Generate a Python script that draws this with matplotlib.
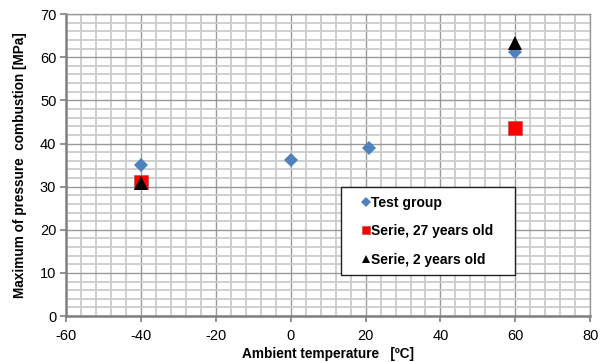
import numpy as np
import matplotlib.pyplot as plt
from matplotlib.ticker import MultipleLocator

plt.rcParams['font.family'] = ['Liberation Sans', 'DejaVu Sans']
plt.rcParams['axes.unicode_minus'] = False

# ambient temperature [C] / max combustion pressure [MPa]
test_temp = [-40, 0, 21, 60]
test_pmax = [35.0, 36.1, 38.9, 61.3]

old_temp = [-40, 60]
old_pmax = [31.1, 43.6]

new_temp = [-40, 60]
new_pmax = [30.8, 63.3]

fig = plt.figure(figsize=(6.06, 3.62), dpi=100)
ax = fig.add_axes([0.109, 0.127, 0.865, 0.834])

ax.set_xlim(-60, 80)
ax.set_ylim(0, 70)
ax.xaxis.set_major_locator(MultipleLocator(20))
ax.xaxis.set_minor_locator(MultipleLocator(4))
ax.yaxis.set_major_locator(MultipleLocator(10))
ax.yaxis.set_minor_locator(MultipleLocator(2))

ax.grid(which='minor', color='#cccccc', linewidth=1.3)
ax.grid(which='major', color='#999999', linewidth=1.0)
ax.set_axisbelow(True)

for s in ['top', 'right']:
    ax.spines[s].set_color('#999999')
    ax.spines[s].set_linewidth(1.0)
for s in ['left', 'bottom']:
    ax.spines[s].set_color('#808080')
    ax.spines[s].set_linewidth(1.8)

ax.tick_params(which='major', length=4, width=1.2, color='#808080',
               labelsize=10.5, pad=3)
ax.tick_params(axis='x', which='major', pad=5)
ax.tick_params(which='minor', length=0)

ax.plot(test_temp, test_pmax, 'D', color='#4F81BD', markersize=7,
        markeredgewidth=0, label='Test group')
ax.plot(old_temp, old_pmax, 's', color='#FF0000', markersize=9.5,
        markeredgecolor='#c0504d', markeredgewidth=0.5,
        label='Serie, 27 years old')
ax.plot(new_temp, new_pmax, '^', color='black', markersize=10,
        markeredgewidth=0, label='Serie, 2 years old')

ax.set_xlabel('Ambient temperature   [ºC]', fontsize=9.8, fontweight='bold',
              labelpad=3)
ax.set_ylabel('Maximum of pressure  combustion [MPa]', fontsize=9.8,
              fontweight='bold', labelpad=9)

# legend box stretched to a fixed width
leg = ax.legend(loc='upper left',
                bbox_to_anchor=(341 / 606, 1 - 273 / 362, 174 / 606, 86 / 362),
                bbox_transform=fig.transFigure, mode='expand', numpoints=1,
                fancybox=False, framealpha=1, edgecolor='#222222',
                borderpad=0.62, labelspacing=1.05, handlelength=2.3,
                handletextpad=-0.75, borderaxespad=0,
                prop={'weight': 'bold', 'size': 10})
leg.get_frame().set_linewidth(1.0)
for h in leg.legend_handles:
    h.set_markersize(5.5)

fig.savefig('out.png', dpi=100)
